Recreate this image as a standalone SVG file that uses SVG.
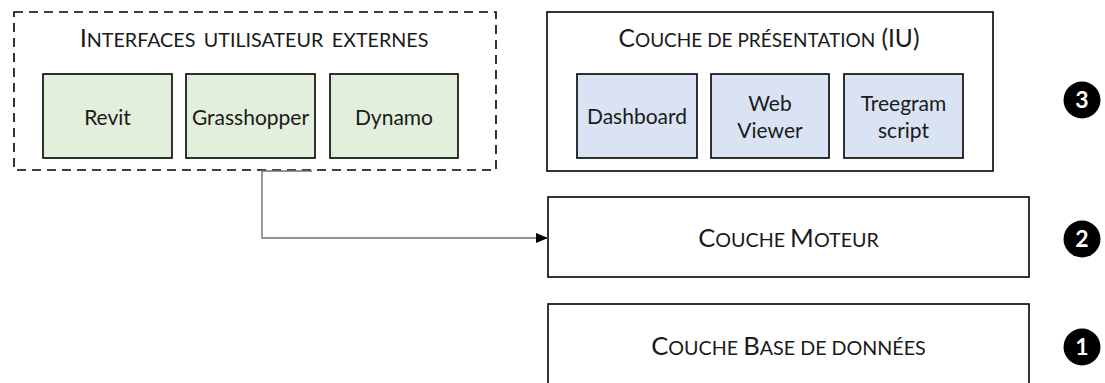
<svg xmlns="http://www.w3.org/2000/svg" width="1105" height="383" viewBox="0 0 1105 383">
<defs>
<style>
.box{fill:#fff;stroke:#000;stroke-width:1.6}
.dash{fill:#fff;stroke:#000;stroke-width:1.6;stroke-dasharray:9 6}
.green{fill:#e2efda;stroke:#000;stroke-width:1.6}
.blue{fill:#dae3f3;stroke:#000;stroke-width:1.6}
.lbl{font-family:Lato,"Liberation Sans",sans-serif;font-size:21px;fill:#1a1a1a;text-anchor:middle}
.ttl{font-family:Lato,"Liberation Sans",sans-serif;font-size:25.6px;fill:#1a1a1a;text-anchor:middle}
.sc{font-size:19.7px}
.ttl2{font-size:24.5px}
.ttl2 .sc{font-size:19px}
.badge{fill:#000}
.num{font-family:Lato,"Liberation Sans",sans-serif;font-size:23px;font-weight:bold;fill:#fff;text-anchor:middle}
.conn{fill:none;stroke:#707070;stroke-width:1.4}
</style>
<marker id="arr" viewBox="0 0 12 10" refX="12" refY="5" markerWidth="12" markerHeight="10" markerUnits="userSpaceOnUse" orient="auto">
<path d="M0,0 L12,5 L0,10 Z" fill="#000"/>
</marker>
</defs>

<g id="external-ui">
<rect class="dash" x="14" y="12" width="482" height="158"/>
<text class="ttl" x="254" y="47" word-spacing="3.5">I<tspan class="sc">NTERFACES UTILISATEUR EXTERNES</tspan></text>
</g>
<g id="revit">
<rect class="green" x="43" y="74" width="129" height="84"/>
<text class="lbl" x="107.5" y="125">Revit</text>
</g>
<g id="grasshopper">
<rect class="green" x="186" y="74" width="129" height="84"/>
<text class="lbl" x="250.5" y="125">Grasshopper</text>
</g>
<g id="dynamo">
<rect class="green" x="330" y="74" width="128" height="84"/>
<text class="lbl" x="394" y="125">Dynamo</text>
</g>

<g id="presentation">
<rect class="box" x="547" y="12" width="446" height="159"/>
<text class="ttl ttl2" x="769" y="47">C<tspan class="sc">OUCHE DE PRÉSENTATION</tspan> (IU)</text>
</g>
<g id="dashboard">
<rect class="blue" x="577" y="74" width="120" height="84"/>
<text class="lbl" x="637" y="124">Dashboard</text>
</g>
<g id="webviewer">
<rect class="blue" x="711" y="74" width="118" height="84"/>
<text class="lbl" x="770" y="111">Web</text>
<text class="lbl" x="770" y="138">Viewer</text>
</g>
<g id="treegram">
<rect class="blue" x="844" y="74" width="119" height="84"/>
<text class="lbl" x="903.5" y="111">Treegram</text>
<text class="lbl" x="903.5" y="138">script</text>
</g>

<g id="engine">
<rect class="box" x="548" y="197" width="481" height="80"/>
<text class="ttl" x="788.5" y="247">C<tspan class="sc">OUCHE </tspan>M<tspan class="sc">OTEUR</tspan></text>
</g>
<g id="database">
<rect class="box" x="548" y="304" width="481" height="82"/>
<text class="ttl" x="788.5" y="355">C<tspan class="sc">OUCHE </tspan>B<tspan class="sc">ASE DE DONNÉES</tspan></text>
</g>

<g id="badge-3">
<circle class="badge" cx="1082" cy="100" r="18.5"/>
<text class="num" x="1082" y="108">3</text>
</g>
<g id="badge-2">
<circle class="badge" cx="1082" cy="239" r="18.5"/>
<text class="num" x="1082" y="247">2</text>
</g>
<g id="badge-1">
<circle class="badge" cx="1082" cy="347" r="18.5"/>
<text class="num" x="1082" y="355">1</text>
</g>

<g id="connectors">
<path class="conn" d="M312,171 H262 V238 H548" marker-end="url(#arr)"/>
</g>
</svg>
